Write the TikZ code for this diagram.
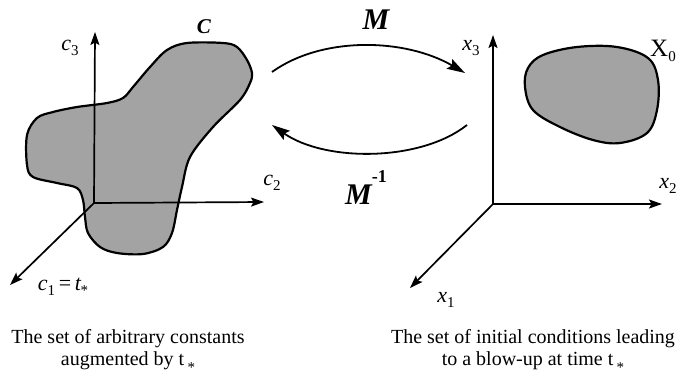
\documentclass[tikz,border=0pt]{standalone}
\usepackage{fontspec}
\setmainfont{Liberation Serif}
\usetikzlibrary{arrows.meta}
\newcommand\lbsub[1]{\raisebox{-0.45ex}{\fontsize{15}{15}\selectfont #1}}
\begin{document}
\begin{tikzpicture}[x=1pt,y=-1pt,
  axis/.style={line width=1.7pt,-{Stealth[length=13pt,width=9pt,inset=2.5pt]}},
  maparrow/.style={line width=1.8pt,-{Stealth[length=18pt,width=11pt,inset=3pt]}},
  blob/.style={line width=2.2pt,fill=black!36},
  lab/.style={font=\fontsize{22}{22}\selectfont,inner sep=0pt},
  captext/.style={font=\fontsize{20}{22}\selectfont,align=center,inner sep=0pt}]
\useasboundingbox (0,0) rectangle (679,375);
% left set C
\draw[blob] plot[smooth cycle,tension=0.55] coordinates{
 (187,43) (223,43) (237,47) (247,60) (252,73) (250,83) (240,100) (213,127)
 (190,157) (182,187) (177,210) (172,233) (163,247) (143,254) (117,253)
 (100,247) (88,233) (85,217) (83,200) (77,188) (57,183) (33,177) (27,165)
 (27,135) (37,118) (53,112) (77,107) (107,103) (123,98) (133,87) (150,67) (167,50)};
% left axes
\coordinate (O1) at (94,203);
\coordinate (C3) at (95,32);
\coordinate (C2) at (264,202);
\coordinate (C1) at (10,285);
\draw[axis] (O1) -- (C3);
\draw[axis] (O1) -- (C2);
\draw[axis] (O1) -- (C1);
\node[lab] (lc3) at (70,48) {\textit{c}\lbsub{3}};
\node[lab] (lc2) at (272,183) {\textit{c}\lbsub{2}};
\node[lab] (lc1) at (63,287) {\textit{c}\lbsub{1}\,=\,\textit{t}\lbsub{\kern-1pt*}};
\node[lab,font=\fontsize{21}{21}\selectfont\bfseries\itshape] (lC) at (204,27) {C};
% right set X0
\draw[blob] plot[smooth cycle,tension=0.6] coordinates{
 (528,68) (543,55) (577,47) (617,47) (648,58) (658,80) (657,110) (647,133)
 (620,143) (593,140) (560,127) (533,110) (525,87)};
% right axes
\coordinate (O2) at (493,204);
\coordinate (X3) at (493,35);
\coordinate (X2) at (662,204);
\coordinate (X1) at (410,288);
\draw[axis] (O2) -- (X3);
\draw[axis] (O2) -- (X2);
\draw[axis] (O2) -- (X1);
\node[lab] (lx3) at (471,48) {\textit{x}\lbsub{3}};
\node[lab] (lx2) at (668,186) {\textit{x}\lbsub{2}};
\node[lab] (lx1) at (446,300) {\textit{x}\lbsub{1}};
\node[lab,font=\fontsize{25}{25}\selectfont] (lX0) at (663,51) {X\lbsub{0}};
% maps
\coordinate (MA) at (272,72);
\coordinate (MB) at (465,73);
\coordinate (NA) at (467,125);
\coordinate (NB) at (272,125);
\draw[maparrow] (MA) .. controls (322,36) and (405,38) .. (MB);
\draw[maparrow] (NA) .. controls (420,162) and (325,162) .. (NB);
\node[lab,font=\fontsize{30}{30}\selectfont\bfseries\itshape] (lM) at (376,20) {M};
\node[lab,font=\fontsize{30}{30}\selectfont\bfseries\itshape] (lMi) at (366,188) {M\raisebox{1.6ex}{\fontsize{18}{18}\selectfont\upshape\bfseries -1}};
% captions
\node[captext] (capL) at (128,351) {The set of arbitrary constants\\augmented by t\,\raisebox{-0.7ex}{\fontsize{15}{15}\selectfont *}};
\node[captext] (capR) at (533,351) {The set of initial conditions leading\\to a blow-up at time t\,\raisebox{-0.7ex}{\fontsize{15}{15}\selectfont *}};
\end{tikzpicture}
\end{document}
